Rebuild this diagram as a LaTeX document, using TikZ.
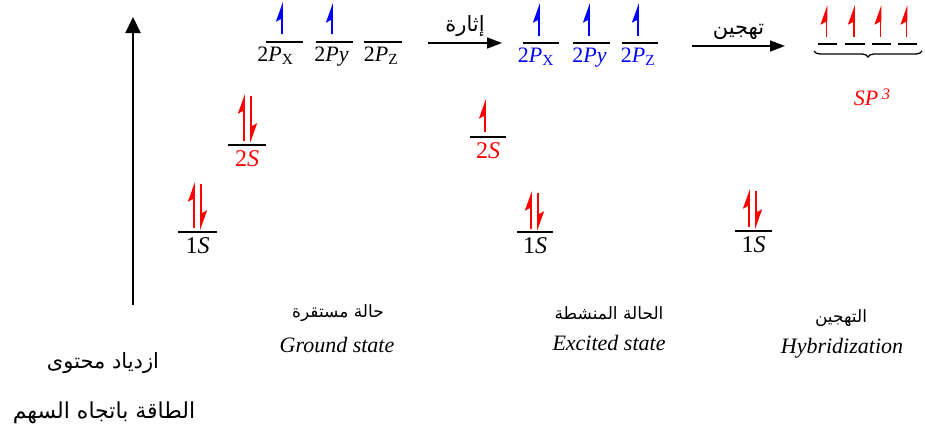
\documentclass[tikz,border=0pt]{standalone}
\usepackage{fontspec}
\setmainfont{Liberation Serif}
\newfontfamily\arabicfont[Script=Arabic]{DejaVu Sans}
\TeXXeTstate=1
\usetikzlibrary{arrows.meta,decorations.pathreplacing,positioning}
\tikzset{
    level line/.style={line width=1.3pt, black},
    spin/.style={line width=1.8pt, -{Stealth[left,length=17pt,width=12pt,inset=3pt]}},
    orb label/.style={below=3pt, inner sep=1pt, font=\fontsize{22}{24}\selectfont},
    s label/.style={below=4pt, inner sep=1pt, font=\fontsize{24}{26}\selectfont},
    step arrow/.style={line width=1.4pt, -{Triangle[length=15pt,width=11pt]}},
    state ar/.style={font=\arabicfont\fontsize{17}{18}\selectfont, inner sep=1pt},
    state en/.style={font=\fontsize{22}{24}\selectfont\itshape, inner sep=1pt}
}

\begin{document}
\begin{tikzpicture}[x=1pt, y=-1pt]
    \useasboundingbox (0,0) rectangle (925,439);
    % energy axis
    \coordinate (E0) at (133,305);
    \coordinate (E1) at (133,17);
    \draw[line width=2.2pt, -{Triangle[length=16pt,width=15pt]}] (E0) -- (E1);
    \node[font=\arabicfont\fontsize{21}{22}\selectfont] (energy1) at (103,363) {\beginR ازدياد محتوى\endR};
    \node[font=\arabicfont\fontsize{22}{24}\selectfont] (energy2) at (104,413) {\beginR الطاقة باتجاه السهم\endR};

    % ground state
    \draw[level line] (178,232) -- (217,232) node[midway, s label] (g1s) {1\textit{S}};
    \draw[level line] (228,145) -- (266,145) node[midway, s label, red] (g2s) {2\textit{S}};
    \draw[level line] (266,42) -- (303,42) node[midway, orb label, xshift=-9pt] (g2px) {2\textit{P}\textsubscript{X}};
    \draw[level line] (316,42) -- (353,42) node[midway, orb label, xshift=-3pt] (g2py) {2\textit{Py}};
    \draw[level line] (364,42) -- (402,42) node[midway, orb label, xshift=-2pt] (g2pz) {2\textit{P}\textsubscript{Z}};
    \draw[spin, red] (194,228) -- (194,182);
    \draw[spin, red] (201,184) -- (201,230);
    \draw[spin, red] (244,141) -- (244,94);
    \draw[spin, red] (251,96) -- (251,143);
    \draw[spin, blue] (282,34) -- (282,2);
    \draw[spin, blue] (332,34) -- (332,3);

    % excitation
    \coordinate (ex-a) at (428,43);
    \coordinate (ex-b) at (502,43);
    \draw[step arrow] (ex-a) -- (ex-b) node[midway, above=2pt, font=\arabicfont\fontsize{21}{22}\selectfont] (ex-lbl) {\beginR إثارة\endR};

    % excited state
    \draw[level line] (470,137) -- (506,137) node[midway, s label, red] (e2s) {2\textit{S}};
    \draw[level line] (517,232) -- (553,232) node[midway, s label] (e1s) {1\textit{S}};
    \draw[level line] (523,43) -- (559,43) node[midway, orb label, blue, xshift=-5pt] (e2px) {2\textit{P}\textsubscript{X}};
    \draw[level line] (573,43) -- (610,43) node[midway, orb label, blue, xshift=-2pt] (e2py) {2\textit{Py}};
    \draw[level line] (622,43) -- (658,43) node[midway, orb label, blue, xshift=-2pt] (e2pz) {2\textit{P}\textsubscript{Z}};
    \draw[spin, red] (485,132) -- (485,99);
    \draw[spin, red] (531,229) -- (531,191);
    \draw[spin, red] (538,193) -- (538,231);
    \draw[spin, blue] (539,36) -- (539,3);
    \draw[spin, blue] (589,36) -- (589,3);
    \draw[spin, blue] (638,36) -- (638,3);

    % hybridization
    \coordinate (hy-a) at (692,46);
    \coordinate (hy-b) at (785,46);
    \draw[step arrow] (hy-a) -- (hy-b) node[midway, above=2pt, font=\arabicfont\fontsize{21}{22}\selectfont] (hy-lbl) {\beginR تهجين\endR};

    \draw[level line] (735,231) -- (772,231) node[midway, s label] (h1s) {1\textit{S}};
    \draw[spin, red] (749,227) -- (749,189);
    \draw[spin, red] (756,191) -- (756,229);
    \foreach \xa/\xb in {818/837, 845/865, 872/891, 898/917}{
        \draw[level line] (\xa,44) -- (\xb,44);
        \draw[spin, red] ({(\xa+\xb)/2-1},37) -- ({(\xa+\xb)/2-1},5);
    }
    \draw[line width=1.3pt, decorate, decoration={brace, mirror, amplitude=6pt}] (814,51) -- (922,51);
    \node[red, font=\fontsize{22}{24}\selectfont\itshape] (sp3) at (872,97) {SP\,\raisebox{6pt}{\fontsize{16}{16}\selectfont 3}};

    % state names
    \node[state ar] (gs-ar) at (338,313) {\beginR حالة مستقرة\endR};
    \node[state en] (gs-en) at (337,345) {Ground state};
    \node[state ar] (es-ar) at (609,313) {\beginR الحالة المنشطة\endR};
    \node[state en] (es-en) at (609,343) {Excited state};
    \node[state ar] (hs-ar) at (841,318) {\beginR التهجين\endR};
    \node[state en] (hs-en) at (842,348) {Hybridization};
\end{tikzpicture}
\end{document}
